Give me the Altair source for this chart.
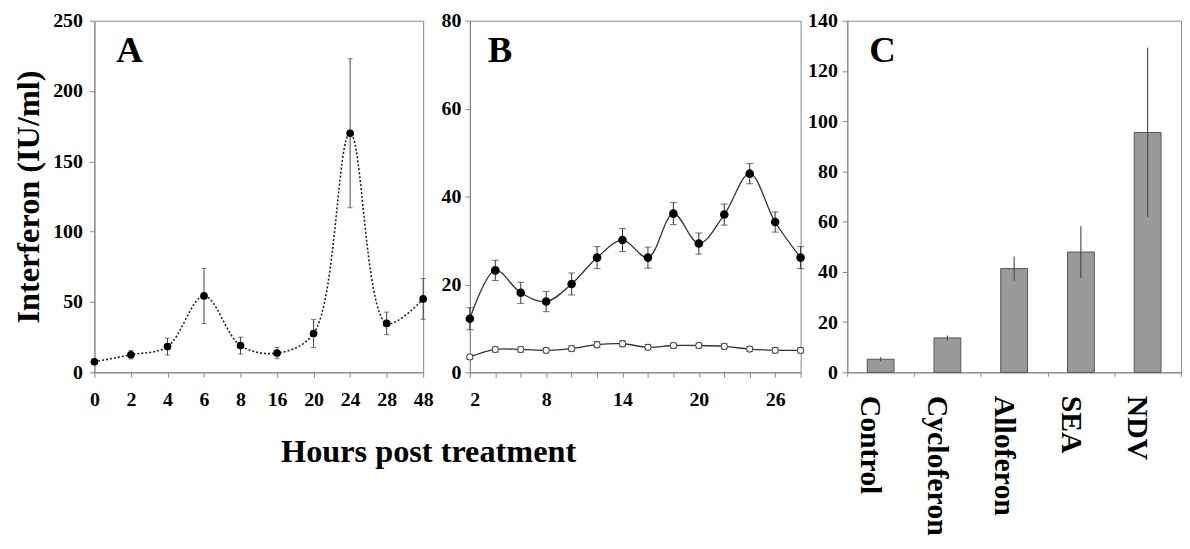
import altair as alt
import pandas as pd

# ---------------- data ----------------
hours_a = ["0", "2", "4", "6", "8", "16", "20", "24", "28", "48"]
ifn_a = [7.5, 12.5, 18.3, 54.3, 19.0, 13.7, 27.6, 170.0, 34.8, 52.2]
err_a = [1.0, 3.0, 6.0, 19.6, 6.0, 4.0, 10.0, 53.0, 8.0, 14.5]

hours_b = [2, 4, 6, 8, 10, 12, 14, 16, 18, 20, 22, 24, 26, 28]
treated_b = [12.2, 23.2, 18.1, 16.1, 20.1, 26.1, 30.1, 26.1, 36.1, 29.3, 35.9, 45.2, 34.2, 26.1]
treated_err_b = [2.5, 2.3, 2.4, 2.3, 2.5, 2.5, 2.6, 2.4, 2.5, 2.4, 2.4, 2.3, 2.3, 2.5]
control_b = [3.5, 5.2, 5.2, 5.0, 5.4, 6.3, 6.5, 5.7, 6.1, 6.1, 5.9, 5.3, 5.0, 5.0]
control_err_b = [0.5, 0.6, 0.6, 0.6, 0.6, 0.7, 0.7, 0.6, 0.6, 0.6, 0.6, 0.6, 0.6, 0.6]
b_label_hours = [2, 8, 14, 20, 26]

groups_c = ["Control", "Cycloferon", "Alloferon", "SEA", "NDV"]
ifn_c = [5.2, 13.7, 41.3, 47.9, 95.5]
err_c = [0.8, 1.0, 4.8, 10.3, 33.7]

ticks_a = [0, 50, 100, 150, 200, 250]
ticks_b = [0, 20, 40, 60, 80]
ticks_c = [0, 20, 40, 60, 80, 100, 120, 140]

FONT = "Liberation Serif"

df_a = pd.DataFrame({"hour": hours_a, "ifn": ifn_a,
                     "lo": [v - e for v, e in zip(ifn_a, err_a)],
                     "hi": [v + e for v, e in zip(ifn_a, err_a)]})
df_b1 = pd.DataFrame({"hour": hours_b, "ifn": treated_b,
                      "lo": [v - e for v, e in zip(treated_b, treated_err_b)],
                      "hi": [v + e for v, e in zip(treated_b, treated_err_b)]})
df_b2 = pd.DataFrame({"hour": hours_b, "ifn": control_b,
                      "lo": [v - e for v, e in zip(control_b, control_err_b)],
                      "hi": [v + e for v, e in zip(control_b, control_err_b)]})
df_c = pd.DataFrame({"group": groups_c, "ifn": ifn_c,
                     "lo": [v - e for v, e in zip(ifn_c, err_c)],
                     "hi": [v + e for v, e in zip(ifn_c, err_c)]})

W_A, W_B, W_C, H = 331, 333, 336, 354
GAP = 47
LETTER_Y = 42

# ---------------- panel A ----------------
xa_axis = alt.Axis(labelAngle=0, labelPadding=12, title="Hours post treatment",
                   titleFontSize=32.5, titleX=336, titleY=90, titleAlign="center",
                   titleBaseline="alphabetic")
xa = alt.X("hour:O", sort=hours_a, scale=alt.Scale(type="point", padding=0), axis=xa_axis)
ya_axis = alt.Axis(values=ticks_a, title="Interferon (IU/ml)", titleFontSize=32.5,
                   titlePadding=7, labelPadding=7)
ya_scale = alt.Scale(domain=[0, 250], nice=False)

base_a = alt.Chart(df_a)
line_a = base_a.mark_line(interpolate="catmull-rom", strokeDash=[2, 2], color="#222",
                          strokeWidth=1.6).encode(x=xa, y=alt.Y("ifn:Q", scale=ya_scale, axis=ya_axis))
rule_a = base_a.mark_rule(color="#444", strokeWidth=1).encode(
    x=xa, y=alt.Y("lo:Q", scale=ya_scale, axis=ya_axis), y2="hi:Q")
cap_lo_a = base_a.mark_tick(orient="horizontal", size=5, thickness=1, color="#444").encode(
    x=xa, y=alt.Y("lo:Q", scale=ya_scale, axis=ya_axis))
cap_hi_a = base_a.mark_tick(orient="horizontal", size=5, thickness=1, color="#444").encode(
    x=xa, y=alt.Y("hi:Q", scale=ya_scale, axis=ya_axis))
pts_a = base_a.mark_point(filled=True, size=60, color="black", opacity=1).encode(
    x=xa, y=alt.Y("ifn:Q", scale=ya_scale, axis=ya_axis))
lab_a = alt.Chart(pd.DataFrame({"t": ["A"]})).mark_text(
    font=FONT, fontSize=37, fontWeight="bold", align="left", baseline="alphabetic",
    color="black").encode(text="t:N", x=alt.value(22), y=alt.value(LETTER_Y))

chart_a = alt.layer(line_a, rule_a, cap_lo_a, cap_hi_a, pts_a, lab_a).properties(
    width=W_A, height=H)

# ---------------- panel B ----------------
xb_axis = alt.Axis(values=hours_b, labelPadding=12, title=None,
                   labelExpr="indexof([2, 8, 14, 20, 26], datum.value) >= 0 ? datum.label : ''")
xb_scale = alt.Scale(domain=[2, 28], nice=False)
xb = alt.X("hour:Q", scale=xb_scale, axis=xb_axis)
yb_axis = alt.Axis(values=ticks_b, title=None, labelPadding=4)
yb_scale = alt.Scale(domain=[0, 80], nice=False)


def b_layers(df, filled):
    base = alt.Chart(df)
    line = base.mark_line(interpolate="catmull-rom", color="#333", strokeWidth=1.3).encode(
        x=xb, y=alt.Y("ifn:Q", scale=yb_scale, axis=yb_axis))
    rule = base.mark_rule(color="#333", strokeWidth=1).encode(
        x=xb, y=alt.Y("lo:Q", scale=yb_scale, axis=yb_axis), y2="hi:Q")
    cap_lo = base.mark_tick(orient="horizontal", size=7, thickness=1, color="#333").encode(
        x=xb, y=alt.Y("lo:Q", scale=yb_scale, axis=yb_axis))
    cap_hi = base.mark_tick(orient="horizontal", size=7, thickness=1, color="#333").encode(
        x=xb, y=alt.Y("hi:Q", scale=yb_scale, axis=yb_axis))
    if filled:
        pts = base.mark_point(filled=True, size=75, color="black", opacity=1).encode(
            x=xb, y=alt.Y("ifn:Q", scale=yb_scale, axis=yb_axis))
    else:
        pts = base.mark_point(filled=True, size=40, fill="white", stroke="#333",
                              strokeWidth=1, opacity=1).encode(
            x=xb, y=alt.Y("ifn:Q", scale=yb_scale, axis=yb_axis))
    return [line, rule, cap_lo, cap_hi, pts]


lab_b = alt.Chart(pd.DataFrame({"t": ["B"]})).mark_text(
    font=FONT, fontSize=37, fontWeight="bold", align="left", baseline="alphabetic",
    color="black").encode(text="t:N", x=alt.value(18), y=alt.value(LETTER_Y))

chart_b = alt.layer(*b_layers(df_b2, False), *b_layers(df_b1, True), lab_b).properties(
    width=W_B, height=H)

# ---------------- panel C ----------------
xc_axis = alt.Axis(labelAngle=90, labelFontSize=30, labelPadding=19, labelOffset=-11,
                   tickBand="extent", title=None, tickSize=4)
xc = alt.X("group:N", sort=groups_c, scale=alt.Scale(paddingInner=0, paddingOuter=0),
           axis=xc_axis)
yc_axis = alt.Axis(values=ticks_c, title=None, labelPadding=5)
yc_scale = alt.Scale(domain=[0, 140], nice=False)

base_c = alt.Chart(df_c)
bars_c = base_c.mark_bar(size=27, color="#9a9a9a", stroke="#555", strokeWidth=1).encode(
    x=xc, y=alt.Y("ifn:Q", scale=yc_scale, axis=yc_axis))
rule_c = base_c.mark_rule(color="#444", strokeWidth=1.1).encode(
    x=xc, y=alt.Y("lo:Q", scale=yc_scale, axis=yc_axis), y2="hi:Q")
lab_c = alt.Chart(pd.DataFrame({"t": ["C"]})).mark_text(
    font=FONT, fontSize=37, fontWeight="bold", align="left", baseline="alphabetic",
    color="black").encode(text="t:N", x=alt.value(22), y=alt.value(LETTER_Y))

chart_c = alt.layer(bars_c, rule_c, lab_c).properties(width=W_C, height=H)

# ---------------- assemble ----------------
chart = alt.hconcat(chart_a, chart_b, chart_c, spacing=GAP, bounds="flush").properties(
    padding={"left": 4, "top": 0, "right": 0, "bottom": 0}
).configure_view(
    stroke="#888", strokeWidth=1
).configure_axis(
    labelFont=FONT, labelFontSize=20, labelFontWeight="bold", labelColor="black",
    titleFont=FONT, titleFontWeight="bold", titleColor="black",
    domainColor="#888", tickColor="#888", tickSize=5, grid=False
)

chart.save("out.html", embed_options={"renderer": "svg", "actions": False})
